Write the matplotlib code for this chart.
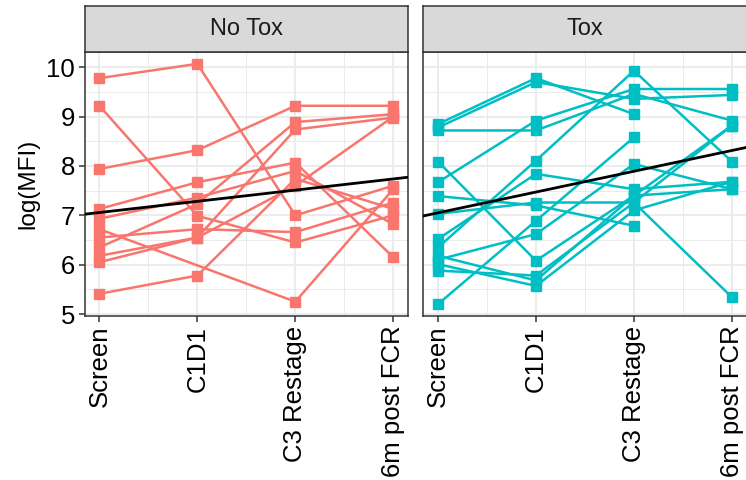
import numpy as np
import matplotlib
matplotlib.use("Agg")
import matplotlib.pyplot as plt
from matplotlib.ticker import MultipleLocator

plt.rcParams['font.family'] = ['Liberation Sans', 'DejaVu Sans']

timepoints = ["Screen", "C1D1", "C3 Restage", "6m post FCR"]
panels = ["No Tox", "Tox"]
colors = {"No Tox": "#F8766D", "Tox": "#00BFC4"}

nan = np.nan
no_tox = [
    [9.78, 10.07, 7.00, 7.60],
    [9.22, 6.99, 6.45, 7.00],
    [7.94, 8.32, 9.22, 9.22],
    [7.13, 7.67, 8.07, 6.15],
    [5.41, 5.78, 7.74, 7.13],
    [6.72, nan, 5.25, 7.53],
    [6.93, 7.36, 7.90, 6.82],
    [6.35, 7.23, 8.89, 9.05],
    [6.05, 6.55, 8.74, 8.98],
    [6.55, 6.72, 6.66, 7.26],
    [6.18, 6.55, 7.60, 9.00],
]
tox = [
    [8.85, 9.78, 9.05, nan],
    [8.78, 9.70, 9.36, 9.44],
    [8.72, 8.72, 9.46, 8.92],
    [7.67, 8.92, 9.56, 9.56],
    [6.35, 8.11, 9.93, 8.09],
    [8.09, 6.08, 7.40, 7.53],
    [7.39, 7.20, 6.79, nan],
    [7.03, 7.26, 7.26, 5.34],
    [5.20, 6.89, 8.58, nan],
    [6.52, 7.84, 7.53, 7.68],
    [6.18, 5.68, 7.40, 8.82],
    [6.01, 5.57, 7.10, 7.68],
    [5.88, 5.78, 7.26, 8.82],
    [6.10, 6.62, 8.04, 7.53],
]
data = {"No Tox": no_tox, "Tox": tox}
# fitted line (intercept, slope per timepoint index)
fits = {"No Tox": (6.83, 0.227), "Tox": (6.63, 0.421)}

W, H = 746, 480
fig = plt.figure(figsize=(W / 100, H / 100), dpi=100)

def px_box(x0, y0, x1, y1):
    return [x0 / W, 1 - y1 / H, (x1 - x0) / W, (y1 - y0) / H]

panel_x = [(84.7, 408.0), (423.3, 746.6)]
py0, py1 = 52, 316
sy0 = 6
edge = "#333333"
fs_tick = 18.5
fs_lab = 17.5
fs_strip = 17

for i, name in enumerate(panels):
    x0, x1 = panel_x[i]
    ax = fig.add_axes(px_box(x0, py0, x1, py1))
    ax.set_facecolor("white")
    xs = np.arange(1, 5)
    for row in data[name]:
        r = np.array(row, dtype=float)
        m = ~np.isnan(r)
        ax.plot(xs[m], r[m], color=colors[name], lw=1.8, marker="s",
                markersize=6.5, zorder=3, solid_capstyle="butt")
    b0, b1 = fits[name]
    ax.axline((0, b0), slope=b1, color="black", lw=2.0, zorder=4)
    ax.set_xlim(0.85, 4.15)
    ax.set_ylim(4.96, 10.31)
    ax.xaxis.set_major_locator(MultipleLocator(1))
    ax.xaxis.set_minor_locator(MultipleLocator(0.5))
    ax.yaxis.set_major_locator(MultipleLocator(1))
    ax.yaxis.set_minor_locator(MultipleLocator(0.5))
    ax.grid(which="major", color="#EBEBEB", lw=1.3, zorder=0)
    ax.grid(which="minor", color="#EBEBEB", lw=0.7, zorder=0)
    ax.set_axisbelow(True)
    ax.set_xticks(xs)
    ax.set_xticklabels(timepoints, rotation=90, fontsize=fs_tick, color="black")
    ax.tick_params(axis="both", which="major", length=4, width=1.1, color=edge,
                   labelsize=fs_tick, labelcolor="black", pad=3)
    ax.tick_params(axis="both", which="minor", length=0)
    for sp in ax.spines.values():
        sp.set_color(edge)
        sp.set_linewidth(1.1)
    if i == 0:
        ax.set_ylabel("log(MFI)", fontsize=fs_lab, labelpad=5)
    else:
        ax.tick_params(axis="y", which="both", left=False, labelleft=False)
    # strip
    sax = fig.add_axes(px_box(x0, sy0, x1, py0))
    sax.set_facecolor("#D9D9D9")
    sax.set_xticks([])
    sax.set_yticks([])
    for sp in sax.spines.values():
        sp.set_color(edge)
        sp.set_linewidth(1.1)
    sax.text(0.5, 0.5, name, ha="center", va="center", fontsize=fs_strip,
             color="#1A1A1A", transform=sax.transAxes)

fig.savefig("out.png", dpi=100)
